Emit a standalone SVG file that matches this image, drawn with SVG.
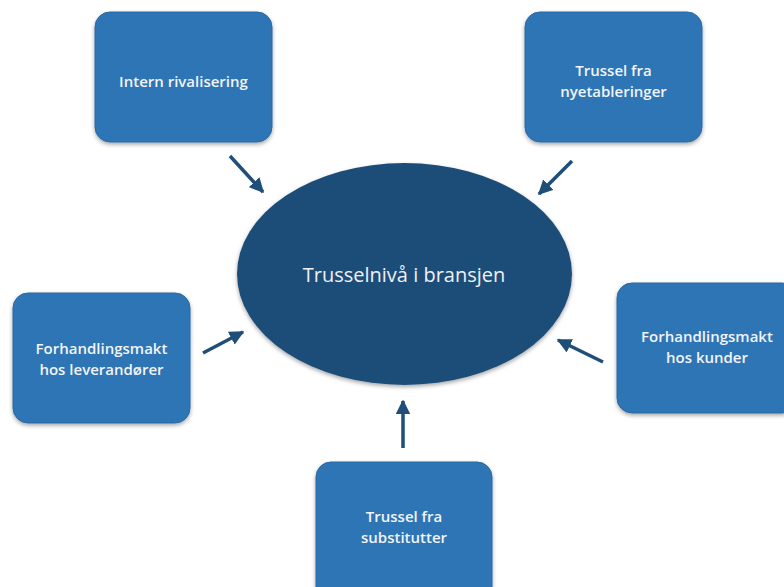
<svg xmlns="http://www.w3.org/2000/svg" width="784" height="587" viewBox="0 0 784 587">
  <defs>
    <filter id="shadow" x="-10%" y="-10%" width="120%" height="125%">
      <feGaussianBlur in="SourceAlpha" stdDeviation="2"/>
      <feOffset dx="0" dy="2" result="b"/>
      <feComponentTransfer><feFuncA type="linear" slope="0.35"/></feComponentTransfer>
      <feMerge><feMergeNode/><feMergeNode in="SourceGraphic"/></feMerge>
    </filter>
    <marker id="head" viewBox="0 0 10 10" refX="9" refY="5" markerWidth="4.2" markerHeight="4.2" orient="auto" markerUnits="strokeWidth">
      <path d="M0,0 L10,5 L0,10 Z" fill="#1f4e79"/>
    </marker>
    <style>
      .box { fill: #2e75b6; stroke: #2a68a3; stroke-width: 1; filter: url(#shadow); }
      .hub { fill: #1f4e79; filter: url(#shadow); }
      .lbl { font-family: "Open Sans", "Liberation Sans", sans-serif; font-size: 15px; font-weight: 600; fill: #f2f4f8; text-anchor: middle; }
      .hubl { font-family: "Open Sans", "Liberation Sans", sans-serif; font-size: 20px; fill: #eef1f6; text-anchor: middle; }
      .arrow { stroke: #1f4e79; stroke-width: 3.5; fill: none; marker-end: url(#head); }
    </style>
  </defs>
  <rect width="784" height="587" fill="#ffffff"/>

  <g id="hub">
    <ellipse class="hub" cx="404.5" cy="274" rx="167.5" ry="111"/>
    <text class="hubl" x="404" y="282">Trusselnivå i bransjen</text>
  </g>

  <g id="rivalry">
    <rect class="box" x="95" y="12" width="177" height="130" rx="15"/>
    <text class="lbl" x="183.5" y="87">Intern rivalisering</text>
  </g>

  <g id="new-entrants">
    <rect class="box" x="525" y="12" width="177" height="130" rx="15"/>
    <text class="lbl" x="613.5" y="76">Trussel fra</text>
    <text class="lbl" x="613.5" y="97">nyetableringer</text>
  </g>

  <g id="suppliers">
    <rect class="box" x="13" y="293" width="177" height="130" rx="15"/>
    <text class="lbl" x="101.5" y="354">Forhandlingsmakt</text>
    <text class="lbl" x="101.5" y="375">hos leverandører</text>
  </g>

  <g id="customers">
    <rect class="box" x="617" y="283" width="180" height="130" rx="15"/>
    <text class="lbl" x="707" y="342">Forhandlingsmakt</text>
    <text class="lbl" x="707" y="363">hos kunder</text>
  </g>

  <g id="substitutes">
    <rect class="box" x="316" y="462" width="176" height="140" rx="15"/>
    <text class="lbl" x="404" y="522">Trussel fra</text>
    <text class="lbl" x="404" y="543">substitutter</text>
  </g>

  <g id="connectors">
    <line class="arrow" x1="230" y1="156" x2="263" y2="192"/>
    <line class="arrow" x1="572" y1="161" x2="539" y2="194"/>
    <line class="arrow" x1="203" y1="353" x2="243" y2="332"/>
    <line class="arrow" x1="603" y1="362" x2="558" y2="340"/>
    <line class="arrow" x1="403" y1="448" x2="403" y2="401"/>
  </g>
</svg>
